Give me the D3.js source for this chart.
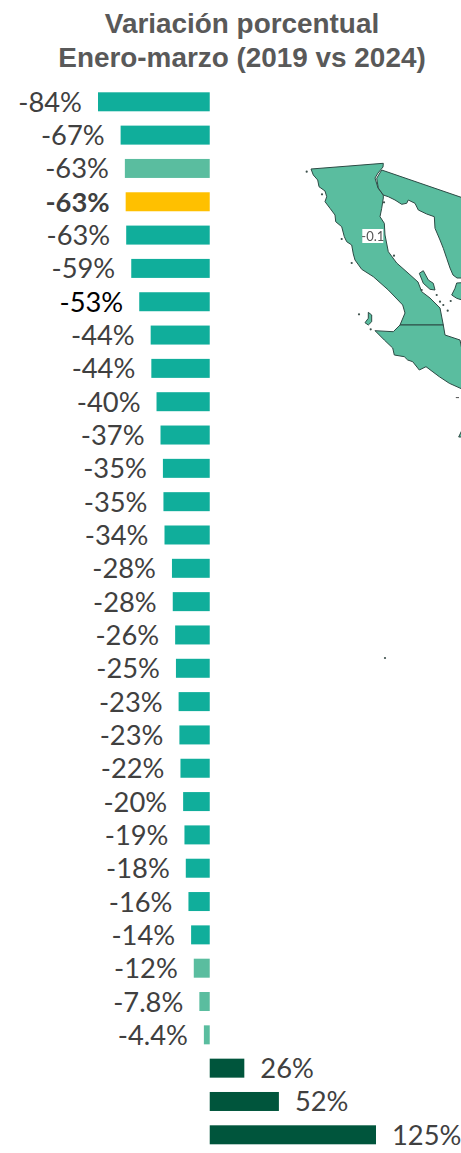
<!DOCTYPE html>
<html>
<head>
<meta charset="utf-8">
<script src="https://cdn.jsdelivr.net/npm/d3@7"></script>
<style>
html, body { margin: 0; padding: 0; background: #fff; overflow: hidden; }
svg { display: block; }
.map { filter: blur(0.35px); }
</style>
</head>
<body>
<svg width="461" height="1153"></svg>
<script>
var titleLines = ['Variación porcentual', 'Enero-marzo (2019 vs 2024)'];

var values = [-84, -67, -63.8, -63.2, -62.8, -59, -53, -44.4, -43.9, -40, -37, -35.2, -34.8, -34,
	-28.4, -27.8, -26, -25.4, -23.4, -22.8, -22, -20, -19, -18, -16, -14, -12, -7.8, -4.4, 26, 52, 125];
var labels = ['-84%', '-67%', '-63%', '-63%', '-63%', '-59%', '-53%', '-44%', '-44%', '-40%', '-37%', '-35%', '-35%', '-34%',
	'-28%', '-28%', '-26%', '-25%', '-23%', '-23%', '-22%', '-20%', '-19%', '-18%', '-16%', '-14%', '-12%', '-7.8%', '-4.4%', '26%', '52%', '125%'];
// t = teal, l = light green, g = highlighted, d = dark green
var groups = ['t', 't', 'l', 'g', 't', 't', 't', 't', 't', 't', 't', 't', 't', 't',
	't', 't', 't', 't', 't', 't', 't', 't', 't', 't', 't', 't', 'l', 'l', 'l', 'd', 'd', 'd'];
var colors = {t: '#10ae9b', l: '#5abd9f', g: '#ffc000', d: '#00553c'};

// map outlines traced on a 161 x 300 grid
var bajaNorte = [[11,19],[83.3,13.3],[83,17],[78,23],[75,28],[78,38],[83.3,45],[83.3,48],[81.7,58.3],[80,66.7],[84.3,73.3],[85,85],[88.3,101.7],[96.7,113],[108,123],[118,132],[121.7,141.7],[130,148],[140,158],[143.3,175],[100,175],[105,163],[102.7,155],[88.3,140],[73.3,126.7],[61.7,119.3],[55,110],[53.3,104],[51.7,95],[46.7,91.7],[44.3,86.7],[41.7,76.7],[35.7,71.7],[35,65],[30,58.3],[25,51.7],[26.7,46.7],[25,41],[19,36.7],[17.7,30],[13.3,25]];
var bajaSur = [[100,175],[143.3,175],[145,185],[160,190],[162,200],[162,239],[149.3,233.3],[139.3,226.7],[126,216.7],[119.3,220],[112.7,211.7],[107.7,210],[104.3,206.7],[94.3,205],[92.7,198],[84.3,190],[75,180.7],[93.3,181.7]];
var sonora = [[81.7,20],[162,47.6],[162,128],[157,128],[153,125],[150,118],[146.7,108.3],[143.3,98.3],[140,90],[135,78.3],[134.3,66.7],[126.7,64],[118.3,60],[115,53.3],[108.3,50],[106.7,53.3],[101.7,54.3],[95,50],[88.3,46.7],[83.3,45],[78.3,38],[76.7,28.3]];
var islands = [[[119.3,123.3],[123.3,120.7],[128.3,130],[133.3,133.3],[135,140],[130,139.3],[123.3,133.3]],
	[[156.7,133],[162,132.7],[162,150],[156.7,148.3],[151.7,145],[155,138.3]],
	[[68.3,162.3],[71.7,165],[71.7,171.7],[68.3,175],[65,172.7],[68.3,168.3]],
	[[162,280],[162,287],[158.7,287]]];
var specks = [[6.7,21.7],[22,44.3],[41.7,89],[94,105.7],[51.7,113],[59,164.3],[70.7,179.3],[121.7,140],[136.7,145],[140,151.7],[143.3,155],[150.7,151],[147.7,160.7],[84,52.3],[85,508]];
var stateLabels = [{text: '-0.1', x: 72.8, y: 86}, {text: '-', x: 157.5, y: 247}];

var svg = d3.select('svg');

var x = d3.scaleLinear().domain([-84, 125]).range([98, 376]);
var y = d3.scaleBand().domain(d3.range(values.length)).range([92.3, 1144.3]).paddingInner(0.43).paddingOuter(0);
var mapX = d3.scaleLinear().domain([0, 161]).range([300, 461]);
var mapY = d3.scaleLinear().domain([0, 300]).range([150, 450]);
var line = d3.line().x(function(d){ return mapX(d[0]); }).y(function(d){ return mapY(d[1]); }).curve(d3.curveLinearClosed);

var map = svg.append('g').attr('class', 'map');
map.selectAll('path')
	.data([bajaNorte, bajaSur, sonora].concat(islands))
	.enter().append('path')
	.attr('d', line)
	.attr('fill', colors.l)
	.attr('stroke', '#2c4a44')
	.attr('stroke-width', 1);
map.selectAll('circle')
	.data(specks)
	.enter().append('circle')
	.attr('cx', function(d){ return mapX(d[0]); })
	.attr('cy', function(d){ return mapY(d[1]); })
	.attr('r', 1.1)
	.attr('fill', '#3d4f4b');
map.selectAll('rect')
	.data(stateLabels)
	.enter().append('rect')
	.attr('x', function(d){ return mapX(d.x) - 10.5; })
	.attr('y', function(d){ return mapY(d.y) - 7; })
	.attr('width', 21)
	.attr('height', 14)
	.attr('fill', '#fff');
map.selectAll('text')
	.data(stateLabels)
	.enter().append('text')
	.attr('x', function(d){ return mapX(d.x); })
	.attr('y', function(d){ return mapY(d.y) + 4.5; })
	.attr('text-anchor', 'middle')
	.attr('font-family', 'Lato, sans-serif')
	.attr('font-size', 13)
	.attr('fill', '#555')
	.text(function(d){ return d.text; });

svg.selectAll('.title')
	.data(titleLines)
	.enter().append('text')
	.attr('class', 'title')
	.attr('x', 242)
	.attr('y', function(d, i){ return 33 + i * 33.5; })
	.attr('text-anchor', 'middle')
	.attr('font-family', '"Liberation Sans", Arial, sans-serif')
	.attr('font-weight', 700)
	.attr('font-size', 27.9)
	.attr('fill', '#595959')
	.text(function(d){ return d; });

svg.selectAll('.bar')
	.data(values)
	.enter().append('rect')
	.attr('class', 'bar')
	.attr('x', function(d){ return Math.min(x(d), x(0)); })
	.attr('y', function(d, i){ return y(i); })
	.attr('width', function(d){ return Math.abs(x(d) - x(0)); })
	.attr('height', y.bandwidth())
	.attr('fill', function(d, i){ return colors[groups[i]]; });

svg.selectAll('.label')
	.data(values)
	.enter().append('text')
	.attr('class', 'label')
	.attr('x', function(d){ return d < 0 ? x(d) - 16 : x(d) + 16; })
	.attr('y', function(d, i){ return y(i) + y.bandwidth() / 2 + 10; })
	.attr('text-anchor', function(d){ return d < 0 ? 'end' : 'start'; })
	.attr('font-family', 'Lato, sans-serif')
	.attr('font-size', 27.3)
	.attr('font-weight', function(d, i){ return groups[i] === 'g' ? 700 : 400; })
	.attr('fill', function(d, i){ return i === 6 ? '#000' : '#404040'; })
	.text(function(d, i){ return labels[i]; });
</script>
</body>
</html>
